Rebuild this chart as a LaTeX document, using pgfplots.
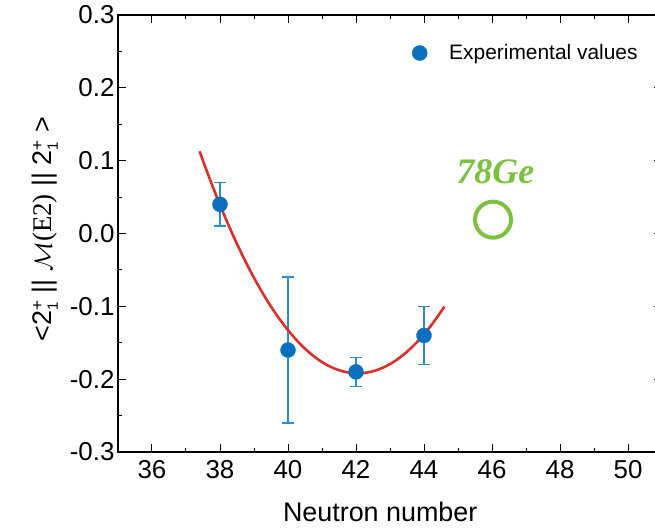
\documentclass[border=0pt]{standalone}
\usepackage{pgfplots}
\pgfplotsset{compat=1.18}
\usepackage{fontspec}
\setmainfont{Liberation Sans}
\newfontfamily\logofont{Liberation Serif}
\definecolor{ptblue}{HTML}{0A6FBE}
\definecolor{errblue}{HTML}{2A8FCC}
\definecolor{fitred}{HTML}{D8312C}
\definecolor{logogreen}{HTML}{7CC142}
\pgfplotstableread{
x y err
38 0.04 0.03
40 -0.16 0.10
42 -0.19 0.02
44 -0.14 0.04
}\expdata
\pgfplotstableread{
x y
37.4 0.1129
37.6 0.0872
37.8 0.0627
38.0 0.0393
38.2 0.0170
38.4 -0.0042
38.6 -0.0242
38.8 -0.0431
39.0 -0.0608
39.2 -0.0775
39.4 -0.0930
39.6 -0.1074
39.8 -0.1206
40.0 -0.1327
40.2 -0.1437
40.4 -0.1536
40.6 -0.1624
40.8 -0.1700
41.0 -0.1765
41.2 -0.1818
41.4 -0.1860
41.6 -0.1891
41.8 -0.1911
42.0 -0.1920
42.2 -0.1917
42.4 -0.1903
42.6 -0.1877
42.8 -0.1841
43.0 -0.1793
43.2 -0.1734
43.4 -0.1663
43.6 -0.1581
43.8 -0.1488
44.0 -0.1384
44.2 -0.1268
44.4 -0.1141
44.6 -0.1003
}\fitdata
\newcommand{\st}{\ensuremath{_{\mbox{\fontsize{15}{17}\selectfont 1}}^{\mbox{\fontsize{17}{19}\selectfont +}}}}
\begin{document}
\begin{tikzpicture}
\begin{axis}[
  scale only axis,
  width=544bp, height=437bp,
  xmin=35, xmax=51, ymin=-0.3, ymax=0.3,
  xtick={36,38,...,50},
  ytick={-0.3,-0.2,...,0.31},
  minor x tick num=1, minor y tick num=1,
  tick align=inside,
  major tick length=8bp, minor tick length=4.5bp,
  every tick/.style={black, line width=1bp},
  axis line style={line width=1.1bp},
  /pgf/number format/assume math mode=true,
  yticklabel style={/pgf/number format/fixed, /pgf/number format/fixed zerofill, /pgf/number format/precision=1},
  tick label style={font=\fontsize{26}{30}\selectfont},
  xticklabel style={yshift=-5bp},
  xlabel={Neutron number},
  ylabel={<2\st\ || $\mathcal{M}${\logofont(E2)} || 2\st\ >},
  label style={font=\fontsize{27}{32}\selectfont},
  xlabel style={at={(axis description cs:0.482,-0.138)}, anchor=center},
  ylabel style={at={(axis description cs:-0.134,0.51)}, anchor=center, rotate=0},
  legend style={draw=none, fill=none, at={(rel axis cs:0.535,0.913)}, anchor=west,
    font=\fontsize{21}{25}\selectfont, /tikz/every even column/.append style={column sep=0pt}},
  legend image post style={xshift=-4bp},
  legend cell align=left,
]
\addplot[draw=none, mark=none, forget plot,
  error bars/.cd, y dir=both, y explicit,
  error bar style={errblue, line width=1.6bp},
  error mark options={errblue, rotate=90, mark size=6bp, line width=1.6bp}]
  table[x=x, y=y, y error=err] {\expdata};
\addplot[fitred, line width=2.6bp, smooth, forget plot] table[x=x, y=y] {\fitdata};
\addplot[only marks, mark=*, mark size=7.5bp, mark options={ptblue, fill=ptblue, draw=ptblue}] table[x=x, y=y] {\expdata};
\addlegendentry{\hspace{20bp}Experimental values}
\node[logogreen, font=\logofont\bfseries\itshape\fontsize{36}{40}\selectfont] at (axis cs:46.1,0.085) {78Ge};
\draw[logogreen, line width=4bp] (axis cs:46.03,0.019) circle (18bp);
\end{axis}
\pgfresetboundingbox
\useasboundingbox (-118bp,-77bp) rectangle (537bp,452bp);
\end{tikzpicture}
\end{document}
